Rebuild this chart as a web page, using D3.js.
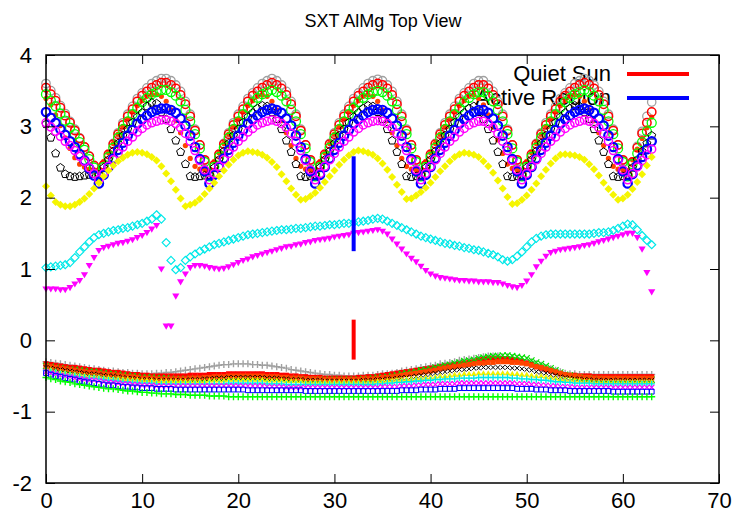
<!DOCTYPE html>
<html lang="en">
  <head>
    <meta charset="UTF-8" />
    <title>SXT AlMg Top View</title>
    <script src="https://cdn.jsdelivr.net/npm/d3@7"></script>
    <style>
      body { margin: 0; background: #fff; }
      text { font-family: "Liberation Sans", Arial, Helvetica, sans-serif; }
    </style>
  </head>
  <body>
    <div id="chart"></div>
    <script>
      // samples are taken every half unit, from 0 to 63
      const xStep = 0.5;
      const xTicks = [0, 10, 20, 30, 40, 50, 60, 70];
      const yTicks = [-2, -1, 0, 1, 2, 3, 4];
      const legendLabels = ["Quiet Sun", "Active Region"];

      // error bars at x = 32
      const barX = [32, 32];
      const barLow = [-0.27, 1.25];
      const barHigh = [0.29, 2.58];

      // ---- upper (periodic) group ----
      const topGray = [
        3.60,3.50,3.40,3.29,3.18,3.07,2.96,2.84,2.71,2.58,2.44,2.30,
        2.45,2.60,2.76,2.91,3.05,3.17,3.28,3.39,3.47,3.54,3.60,3.64,3.67,3.67,3.64,3.58,3.49,3.35,3.17,2.96,2.74,2.52,2.30,
        2.45,2.60,2.76,2.91,3.05,3.17,3.28,3.39,3.47,3.54,3.60,3.64,3.67,3.64,3.58,3.49,3.35,3.17,2.96,2.74,2.52,2.30,
        2.45,2.60,2.76,2.91,3.05,3.17,3.28,3.39,3.47,3.54,3.60,3.64,3.66,3.64,3.58,3.49,3.35,3.17,2.96,2.74,2.52,2.30,
        2.45,2.60,2.76,2.91,3.05,3.17,3.28,3.39,3.47,3.54,3.60,3.64,3.64,3.58,3.49,3.35,3.17,2.96,2.74,2.52,2.30,
        2.45,2.60,2.76,2.91,3.05,3.17,3.28,3.39,3.47,3.54,3.60,3.64,3.67,3.64,3.58,3.49,3.35,3.17,2.96,2.74,2.52,2.30,
        2.50,2.72,2.93,3.14,3.34
      ];
      const topRed = [
        3.54,3.45,3.36,3.26,3.15,3.05,2.94,2.83,2.71,2.58,2.45,2.32,
        2.46,2.61,2.75,2.89,3.02,3.14,3.24,3.35,3.43,3.49,3.54,3.58,3.61,3.61,3.58,3.53,3.44,3.31,3.14,2.94,2.74,2.53,2.32,
        2.46,2.61,2.75,2.89,3.02,3.14,3.24,3.35,3.43,3.49,3.54,3.58,3.61,3.58,3.53,3.44,3.31,3.14,2.94,2.74,2.53,2.32,
        2.46,2.61,2.75,2.89,3.02,3.14,3.24,3.35,3.43,3.49,3.54,3.58,3.60,3.58,3.53,3.44,3.31,3.14,2.94,2.74,2.53,2.32,
        2.46,2.61,2.75,2.89,3.02,3.14,3.24,3.35,3.43,3.49,3.54,3.58,3.58,3.53,3.44,3.31,3.14,2.94,2.74,2.53,2.32,
        2.46,2.61,2.75,2.89,3.02,3.14,3.24,3.35,3.43,3.49,3.54,3.58,3.61,3.58,3.53,3.44,3.31,3.14,2.94,2.74,2.53,2.32,
        2.50,2.70,2.90,3.05,3.20
      ];
      // orange dots rise with the red circles but fall a little earlier
      const topOrange = [
        3.39,3.30,3.16,3.01,2.84,2.69,2.56,2.47,2.43,2.40,2.39,2.38,
        2.51,2.63,2.76,2.89,3.00,3.10,3.20,3.29,3.36,3.42,3.44,3.45,3.42,3.35,3.23,3.08,2.91,2.73,2.55,2.44,2.40,2.39,2.38,
        2.51,2.63,2.76,2.89,3.00,3.10,3.20,3.29,3.36,3.42,3.44,3.42,3.35,3.23,3.08,2.91,2.73,2.55,2.44,2.40,2.39,2.38,
        2.51,2.63,2.76,2.89,3.00,3.10,3.20,3.29,3.36,3.42,3.44,3.42,3.35,3.23,3.08,2.91,2.73,2.55,2.44,2.40,2.39,2.38,
        2.51,2.63,2.76,2.89,3.00,3.10,3.20,3.29,3.36,3.42,3.44,3.39,3.30,3.16,2.99,2.81,2.62,2.47,2.41,2.39,2.38,
        2.51,2.63,2.76,2.89,3.00,3.10,3.20,3.29,3.36,3.42,3.44,3.42,3.35,3.23,3.08,2.91,2.73,2.55,2.44,2.40,2.39,2.38,
        2.53,2.68,2.83,2.98,3.13
      ];
      const topGreen = [
        3.45,3.36,3.28,3.18,3.08,2.98,2.89,2.78,2.67,2.54,2.42,2.30,
        2.43,2.57,2.70,2.84,2.96,3.07,3.17,3.26,3.34,3.40,3.45,3.48,3.51,3.51,3.48,3.43,3.35,3.23,3.07,2.89,2.69,2.50,2.30,
        2.43,2.57,2.70,2.84,2.96,3.07,3.17,3.26,3.34,3.40,3.45,3.48,3.51,3.48,3.43,3.35,3.23,3.07,2.89,2.69,2.50,2.30,
        2.43,2.57,2.70,2.84,2.96,3.07,3.17,3.26,3.34,3.40,3.45,3.48,3.50,3.48,3.43,3.35,3.23,3.07,2.89,2.69,2.50,2.30,
        2.43,2.57,2.70,2.84,2.96,3.07,3.17,3.26,3.34,3.40,3.45,3.48,3.48,3.43,3.35,3.23,3.07,2.89,2.69,2.50,2.30,
        2.43,2.57,2.70,2.84,2.96,3.07,3.17,3.26,3.34,3.40,3.45,3.48,3.51,3.48,3.43,3.35,3.23,3.07,2.89,2.69,2.50,2.30,
        2.47,2.62,2.78,2.93,3.05
      ];
      const topBlack = [
        3.03,2.84,2.62,2.42,2.33,2.30,2.29,2.30,2.31,2.32,2.33,2.32,
        2.42,2.53,2.65,2.76,2.87,2.96,3.05,3.13,3.19,3.28,3.33,3.32,3.20,3.10,2.96,2.80,2.64,2.47,2.30,2.29,2.30,2.31,2.32,
        2.42,2.53,2.65,2.76,2.87,2.96,3.05,3.13,3.19,3.25,3.29,3.28,3.20,3.10,2.96,2.80,2.64,2.47,2.30,2.29,2.30,2.32,
        2.42,2.53,2.65,2.76,2.87,2.96,3.05,3.13,3.19,3.25,3.29,3.28,3.20,3.10,2.96,2.80,2.64,2.47,2.30,2.29,2.30,2.32,
        2.42,2.53,2.65,2.76,2.87,2.96,3.05,3.13,3.19,3.25,3.28,3.20,3.10,2.96,2.80,2.64,2.47,2.30,2.29,2.30,2.32,
        2.42,2.53,2.65,2.76,2.87,2.96,3.05,3.13,3.19,3.25,3.29,3.28,3.20,3.10,2.96,2.80,2.64,2.47,2.30,2.29,2.30,2.32,
        2.42,2.53,2.65,2.76,2.87
      ];
      const topBlue = [
        3.20,3.12,3.05,2.96,2.88,2.79,2.71,2.61,2.52,2.41,2.31,2.20,
        2.32,2.43,2.55,2.67,2.77,2.87,2.95,3.04,3.10,3.15,3.20,3.23,3.25,3.25,3.23,3.19,3.11,3.01,2.87,2.71,2.54,2.37,2.20,
        2.32,2.43,2.55,2.67,2.77,2.87,2.95,3.04,3.10,3.15,3.20,3.23,3.25,3.23,3.19,3.11,3.01,2.87,2.71,2.54,2.37,2.20,
        2.32,2.43,2.55,2.67,2.77,2.87,2.95,3.04,3.10,3.15,3.20,3.23,3.24,3.23,3.19,3.11,3.01,2.87,2.71,2.54,2.37,2.20,
        2.32,2.43,2.55,2.67,2.77,2.87,2.95,3.04,3.10,3.15,3.20,3.23,3.23,3.19,3.11,3.01,2.87,2.71,2.54,2.37,2.20,
        2.32,2.43,2.55,2.67,2.77,2.87,2.95,3.04,3.10,3.15,3.20,3.23,3.25,3.23,3.19,3.11,3.01,2.87,2.71,2.54,2.37,2.20,
        2.33,2.45,2.57,2.68,2.79
      ];
      const topMagenta = [
        3.05,2.99,2.93,2.86,2.79,2.73,2.66,2.58,2.51,2.42,2.34,2.25,
        2.34,2.44,2.53,2.62,2.71,2.79,2.85,2.92,2.97,3.02,3.05,3.07,3.09,3.09,3.07,3.04,2.98,2.90,2.79,2.66,2.52,2.39,2.25,
        2.34,2.44,2.53,2.62,2.71,2.79,2.85,2.92,2.97,3.02,3.05,3.07,3.09,3.07,3.04,2.98,2.90,2.79,2.66,2.52,2.39,2.25,
        2.34,2.44,2.53,2.62,2.71,2.79,2.85,2.92,2.97,3.02,3.05,3.07,3.08,3.07,3.04,2.98,2.90,2.79,2.66,2.52,2.39,2.25,
        2.34,2.44,2.53,2.62,2.71,2.79,2.85,2.92,2.97,3.02,3.05,3.07,3.07,3.04,2.98,2.90,2.79,2.66,2.52,2.39,2.25,
        2.34,2.44,2.53,2.62,2.71,2.79,2.85,2.92,2.97,3.02,3.05,3.07,3.09,3.07,3.04,2.98,2.90,2.79,2.66,2.52,2.39,2.25,
        2.34,2.43,2.52,2.60,2.68
      ];
      const topYellow = [
        2.16,2.03,1.94,1.90,1.88,1.88,1.90,1.94,1.99,2.05,2.13,2.21,2.30,2.38,2.45,2.51,2.56,2.60,2.63,2.64,
        2.63,2.61,2.57,2.52,2.44,2.34,2.23,2.11,1.99,1.88,
        1.90,1.93,1.98,2.05,2.13,2.21,2.30,2.38,2.46,2.53,2.59,2.63,2.65,
        2.64,2.63,2.60,2.56,2.50,2.43,2.33,2.23,2.13,2.04,1.97,
        1.98,2.02,2.07,2.14,2.22,2.30,2.38,2.46,2.53,2.59,2.64,2.66,
        2.65,2.63,2.60,2.55,2.48,2.39,2.29,2.18,2.08,1.98,
        1.99,2.03,2.08,2.14,2.21,2.29,2.37,2.44,2.51,2.57,2.61,2.63,
        2.62,2.60,2.57,2.51,2.44,2.35,2.24,2.13,2.01,1.91,
        1.92,1.97,2.03,2.11,2.20,2.30,2.39,2.48,2.55,2.60,2.61,
        2.60,2.59,2.57,2.53,2.47,2.40,2.31,2.21,2.12,2.04,1.97,
        1.99,2.04,2.12,2.22,2.33,2.45,2.57
      ];

      // ---- middle group ----
      const midCyan = [
        1.02,1.03,1.04,1.05,1.06,1.09,1.16,1.24,1.31,1.38,
        1.44,1.48,1.50,1.52,1.54,1.55,1.57,1.58,1.60,1.62,
        1.64,1.67,1.70,1.76,1.70,1.37,1.12,0.99,1.02,1.12,
        1.17,1.21,1.25,1.28,1.31,1.34,1.36,1.38,1.40,1.42,
        1.44,1.46,1.48,1.49,1.50,1.51,1.52,1.53,1.54,1.55,
        1.55,1.56,1.57,1.57,1.58,1.59,1.60,1.60,1.61,1.62,
        1.62,1.63,1.64,1.64,1.65,1.66,1.67,1.68,1.70,1.71,
        1.70,1.67,1.64,1.61,1.58,1.55,1.52,1.49,1.46,1.44,
        1.42,1.40,1.38,1.36,1.35,1.33,1.32,1.30,1.29,1.27,
        1.26,1.24,1.22,1.20,1.17,1.13,1.11,1.13,1.18,1.24,
        1.31,1.38,1.43,1.46,1.48,1.49,1.49,1.49,1.49,1.49,
        1.49,1.49,1.49,1.49,1.50,1.51,1.51,1.52,1.54,1.57,
        1.60,1.63,1.62,1.55,1.47,1.40,1.34
      ];
      const midMagenta = [
        0.72,0.72,0.72,0.71,0.71,0.74,0.79,0.84,0.92,1.05,
        1.16,1.26,1.30,1.32,1.34,1.36,1.37,1.39,1.41,1.44,
        1.47,1.51,1.56,1.61,1.00,0.20,0.20,0.62,0.82,0.93,
        1.02,1.05,1.05,1.04,1.02,1.01,1.00,1.01,1.03,1.06,
        1.09,1.12,1.14,1.17,1.19,1.21,1.23,1.25,1.27,1.29,
        1.31,1.32,1.34,1.35,1.37,1.38,1.40,1.41,1.42,1.43,
        1.45,1.46,1.47,1.48,1.50,1.51,1.52,1.53,1.54,1.55,
        1.53,1.49,1.42,1.35,1.28,1.21,1.15,1.10,1.04,0.98,
        0.93,0.90,0.88,0.87,0.86,0.85,0.84,0.84,0.83,0.83,
        0.82,0.82,0.82,0.81,0.81,0.79,0.77,0.75,0.74,0.77,
        0.83,0.92,1.03,1.11,1.18,1.23,1.25,1.27,1.28,1.29,
        1.30,1.31,1.33,1.34,1.36,1.38,1.40,1.42,1.44,1.46,
        1.48,1.50,1.50,1.44,1.28,0.95,0.68
      ];

      // ---- lower group ----
      const lowGray = [
        -0.30,-0.31,-0.32,-0.33,-0.34,-0.35,-0.36,-0.37,-0.38,-0.39,-0.40,-0.41,-0.42,-0.43,-0.43,-0.44,
        -0.45,-0.45,-0.46,-0.46,-0.47,-0.47,-0.47,-0.46,-0.46,-0.45,-0.45,-0.44,-0.43,-0.42,-0.41,-0.40,
        -0.39,-0.38,-0.37,-0.36,-0.35,-0.34,-0.34,-0.33,-0.33,-0.33,-0.33,-0.34,-0.34,-0.35,-0.35,-0.36,
        -0.37,-0.38,-0.39,-0.41,-0.42,-0.43,-0.44,-0.45,-0.46,-0.47,-0.48,-0.48,-0.49,-0.49,-0.50,-0.50,
        -0.50,-0.50,-0.49,-0.49,-0.49,-0.48,-0.47,-0.47,-0.46,-0.45,-0.43,-0.42,-0.41,-0.40,-0.38,-0.37,
        -0.36,-0.35,-0.33,-0.32,-0.31,-0.30,-0.28,-0.27,-0.26,-0.25,-0.24,-0.23,-0.22,-0.22,-0.22,-0.23,
        -0.23,-0.24,-0.25,-0.27,-0.28,-0.30,-0.33,-0.35,-0.38,-0.40,-0.42,-0.44,-0.46,-0.47,-0.47,-0.48,
        -0.48,-0.48,-0.48,-0.48,-0.48,-0.48,-0.48,-0.48,-0.48,-0.48,-0.48,-0.48,-0.48,-0.48,-0.48
      ];
      const lowRed = [
        -0.33,-0.34,-0.35,-0.36,-0.37,-0.38,-0.38,-0.39,-0.40,-0.41,-0.42,-0.42,-0.43,-0.44,-0.45,-0.45,
        -0.46,-0.47,-0.48,-0.48,-0.49,-0.49,-0.50,-0.50,-0.50,-0.50,-0.50,-0.50,-0.50,-0.50,-0.49,-0.49,
        -0.49,-0.49,-0.48,-0.48,-0.48,-0.48,-0.47,-0.47,-0.47,-0.47,-0.47,-0.47,-0.47,-0.47,-0.48,-0.48,
        -0.48,-0.49,-0.49,-0.50,-0.50,-0.51,-0.51,-0.52,-0.52,-0.52,-0.53,-0.53,-0.53,-0.53,-0.53,-0.53,
        -0.53,-0.52,-0.52,-0.51,-0.51,-0.50,-0.49,-0.48,-0.47,-0.46,-0.45,-0.44,-0.43,-0.42,-0.41,-0.40,
        -0.39,-0.38,-0.37,-0.36,-0.35,-0.34,-0.33,-0.32,-0.31,-0.30,-0.28,-0.27,-0.26,-0.26,-0.26,-0.26,
        -0.26,-0.27,-0.28,-0.30,-0.32,-0.34,-0.37,-0.39,-0.41,-0.43,-0.45,-0.47,-0.48,-0.49,-0.49,-0.50,
        -0.50,-0.50,-0.51,-0.51,-0.51,-0.51,-0.51,-0.51,-0.51,-0.51,-0.51,-0.51,-0.51,-0.51,-0.51
      ];
      const lowGreen = [
        -0.36,-0.37,-0.38,-0.39,-0.40,-0.41,-0.41,-0.42,-0.43,-0.44,-0.44,-0.45,-0.46,-0.47,-0.47,-0.48,
        -0.49,-0.50,-0.50,-0.51,-0.52,-0.52,-0.52,-0.53,-0.53,-0.53,-0.54,-0.54,-0.54,-0.54,-0.54,-0.54,
        -0.54,-0.54,-0.53,-0.53,-0.53,-0.53,-0.52,-0.52,-0.52,-0.52,-0.52,-0.52,-0.52,-0.52,-0.53,-0.53,
        -0.53,-0.53,-0.54,-0.54,-0.54,-0.54,-0.55,-0.55,-0.55,-0.55,-0.55,-0.55,-0.55,-0.55,-0.55,-0.55,
        -0.55,-0.55,-0.54,-0.54,-0.53,-0.52,-0.52,-0.51,-0.50,-0.49,-0.47,-0.46,-0.45,-0.44,-0.42,-0.41,
        -0.40,-0.38,-0.37,-0.35,-0.34,-0.32,-0.31,-0.29,-0.28,-0.27,-0.25,-0.24,-0.23,-0.22,-0.22,-0.21,
        -0.21,-0.22,-0.23,-0.24,-0.25,-0.28,-0.31,-0.33,-0.36,-0.39,-0.42,-0.45,-0.48,-0.49,-0.51,-0.52,
        -0.53,-0.53,-0.54,-0.54,-0.55,-0.55,-0.55,-0.55,-0.55,-0.55,-0.55,-0.55,-0.55,-0.55,-0.55
      ];
      const lowOrange = [
        -0.36,-0.37,-0.38,-0.39,-0.40,-0.41,-0.42,-0.43,-0.44,-0.45,-0.45,-0.46,-0.47,-0.48,-0.48,-0.49,
        -0.50,-0.51,-0.51,-0.52,-0.53,-0.53,-0.53,-0.54,-0.54,-0.54,-0.54,-0.54,-0.54,-0.54,-0.53,-0.53,
        -0.53,-0.52,-0.52,-0.51,-0.51,-0.51,-0.50,-0.50,-0.50,-0.50,-0.50,-0.50,-0.50,-0.50,-0.51,-0.51,
        -0.51,-0.52,-0.52,-0.53,-0.53,-0.53,-0.54,-0.54,-0.54,-0.54,-0.55,-0.55,-0.55,-0.55,-0.55,-0.55,
        -0.55,-0.55,-0.54,-0.54,-0.54,-0.53,-0.52,-0.52,-0.51,-0.50,-0.49,-0.48,-0.47,-0.46,-0.45,-0.44,
        -0.43,-0.42,-0.40,-0.39,-0.38,-0.37,-0.36,-0.35,-0.34,-0.33,-0.32,-0.32,-0.31,-0.31,-0.30,-0.30,
        -0.30,-0.31,-0.31,-0.32,-0.33,-0.35,-0.37,-0.38,-0.40,-0.42,-0.44,-0.46,-0.48,-0.49,-0.50,-0.51,
        -0.52,-0.52,-0.53,-0.53,-0.53,-0.53,-0.53,-0.53,-0.53,-0.53,-0.53,-0.53,-0.53,-0.53,-0.53
      ];
      const lowBlack = [
        -0.38,-0.39,-0.40,-0.41,-0.42,-0.43,-0.44,-0.45,-0.46,-0.47,-0.47,-0.48,-0.49,-0.50,-0.50,-0.51,
        -0.52,-0.53,-0.53,-0.54,-0.55,-0.55,-0.55,-0.56,-0.56,-0.56,-0.56,-0.56,-0.56,-0.56,-0.55,-0.55,
        -0.55,-0.54,-0.54,-0.53,-0.53,-0.53,-0.52,-0.52,-0.52,-0.52,-0.52,-0.52,-0.52,-0.52,-0.53,-0.53,
        -0.53,-0.54,-0.54,-0.55,-0.55,-0.55,-0.56,-0.56,-0.56,-0.56,-0.57,-0.57,-0.57,-0.57,-0.57,-0.57,
        -0.57,-0.57,-0.56,-0.56,-0.56,-0.55,-0.55,-0.54,-0.54,-0.53,-0.52,-0.52,-0.51,-0.50,-0.49,-0.48,
        -0.47,-0.46,-0.45,-0.44,-0.43,-0.42,-0.41,-0.41,-0.40,-0.39,-0.39,-0.38,-0.38,-0.38,-0.38,-0.38,
        -0.38,-0.39,-0.39,-0.40,-0.41,-0.42,-0.44,-0.45,-0.46,-0.48,-0.49,-0.51,-0.52,-0.53,-0.54,-0.54,
        -0.55,-0.55,-0.56,-0.56,-0.56,-0.56,-0.56,-0.56,-0.56,-0.56,-0.56,-0.56,-0.56,-0.56,-0.56
      ];
      const lowYellow = [
        -0.40,-0.41,-0.43,-0.44,-0.45,-0.46,-0.47,-0.48,-0.49,-0.50,-0.50,-0.51,-0.52,-0.52,-0.53,-0.53,
        -0.54,-0.54,-0.55,-0.55,-0.56,-0.56,-0.56,-0.57,-0.57,-0.57,-0.57,-0.57,-0.57,-0.57,-0.57,-0.57,
        -0.57,-0.57,-0.56,-0.56,-0.56,-0.56,-0.55,-0.55,-0.55,-0.55,-0.55,-0.55,-0.55,-0.55,-0.56,-0.56,
        -0.56,-0.56,-0.57,-0.57,-0.57,-0.57,-0.58,-0.58,-0.58,-0.58,-0.58,-0.58,-0.58,-0.58,-0.58,-0.58,
        -0.58,-0.58,-0.58,-0.58,-0.58,-0.57,-0.57,-0.56,-0.56,-0.55,-0.55,-0.54,-0.54,-0.53,-0.53,-0.52,
        -0.52,-0.51,-0.50,-0.50,-0.49,-0.48,-0.48,-0.47,-0.47,-0.47,-0.46,-0.46,-0.46,-0.46,-0.46,-0.46,
        -0.46,-0.47,-0.47,-0.48,-0.48,-0.49,-0.50,-0.50,-0.51,-0.52,-0.53,-0.54,-0.55,-0.55,-0.56,-0.56,
        -0.57,-0.57,-0.58,-0.58,-0.58,-0.58,-0.58,-0.58,-0.58,-0.58,-0.58,-0.58,-0.58,-0.58,-0.58
      ];
      const lowCyan = [
        -0.42,-0.44,-0.45,-0.47,-0.48,-0.49,-0.50,-0.51,-0.52,-0.53,-0.53,-0.54,-0.55,-0.56,-0.56,-0.57,
        -0.58,-0.58,-0.59,-0.59,-0.60,-0.60,-0.60,-0.61,-0.61,-0.61,-0.61,-0.61,-0.61,-0.61,-0.61,-0.61,
        -0.61,-0.61,-0.61,-0.61,-0.61,-0.61,-0.60,-0.60,-0.60,-0.60,-0.60,-0.60,-0.60,-0.60,-0.61,-0.61,
        -0.61,-0.61,-0.62,-0.62,-0.62,-0.62,-0.62,-0.62,-0.62,-0.62,-0.62,-0.62,-0.62,-0.62,-0.62,-0.62,
        -0.62,-0.62,-0.62,-0.62,-0.62,-0.61,-0.61,-0.60,-0.60,-0.59,-0.59,-0.58,-0.58,-0.57,-0.57,-0.56,
        -0.56,-0.55,-0.55,-0.54,-0.54,-0.54,-0.53,-0.53,-0.53,-0.53,-0.52,-0.52,-0.52,-0.52,-0.52,-0.52,
        -0.52,-0.53,-0.53,-0.54,-0.54,-0.55,-0.55,-0.56,-0.56,-0.57,-0.58,-0.58,-0.59,-0.59,-0.60,-0.60,
        -0.60,-0.60,-0.61,-0.61,-0.61,-0.61,-0.61,-0.61,-0.61,-0.61,-0.61,-0.61,-0.61,-0.61,-0.61
      ];
      const lowMagenta = [
        -0.44,-0.46,-0.47,-0.49,-0.50,-0.51,-0.53,-0.54,-0.55,-0.56,-0.56,-0.57,-0.58,-0.59,-0.59,-0.60,
        -0.61,-0.61,-0.62,-0.62,-0.63,-0.63,-0.63,-0.64,-0.64,-0.64,-0.64,-0.64,-0.64,-0.64,-0.64,-0.64,
        -0.64,-0.64,-0.64,-0.64,-0.64,-0.64,-0.64,-0.64,-0.64,-0.64,-0.64,-0.64,-0.64,-0.64,-0.65,-0.65,
        -0.65,-0.65,-0.66,-0.66,-0.66,-0.66,-0.66,-0.66,-0.66,-0.66,-0.66,-0.66,-0.66,-0.66,-0.66,-0.66,
        -0.66,-0.66,-0.66,-0.66,-0.66,-0.66,-0.65,-0.65,-0.65,-0.65,-0.64,-0.64,-0.64,-0.63,-0.63,-0.62,
        -0.62,-0.62,-0.61,-0.61,-0.61,-0.61,-0.60,-0.60,-0.60,-0.60,-0.60,-0.60,-0.60,-0.60,-0.60,-0.60,
        -0.60,-0.60,-0.61,-0.61,-0.61,-0.62,-0.62,-0.63,-0.63,-0.64,-0.64,-0.65,-0.65,-0.65,-0.66,-0.66,
        -0.66,-0.66,-0.66,-0.66,-0.66,-0.66,-0.66,-0.66,-0.66,-0.66,-0.66,-0.66,-0.66,-0.66,-0.66
      ];
      const lowBlue = [
        -0.46,-0.48,-0.50,-0.51,-0.53,-0.54,-0.55,-0.57,-0.58,-0.59,-0.60,-0.61,-0.62,-0.63,-0.63,-0.64,
        -0.65,-0.65,-0.66,-0.66,-0.67,-0.67,-0.67,-0.68,-0.68,-0.68,-0.68,-0.69,-0.69,-0.69,-0.69,-0.69,
        -0.69,-0.69,-0.69,-0.69,-0.69,-0.69,-0.69,-0.69,-0.69,-0.69,-0.70,-0.70,-0.70,-0.70,-0.70,-0.70,
        -0.70,-0.70,-0.70,-0.70,-0.70,-0.70,-0.71,-0.71,-0.71,-0.71,-0.71,-0.71,-0.71,-0.71,-0.71,-0.71,
        -0.71,-0.71,-0.71,-0.71,-0.71,-0.71,-0.71,-0.71,-0.71,-0.71,-0.70,-0.70,-0.70,-0.70,-0.69,-0.69,
        -0.69,-0.69,-0.68,-0.68,-0.68,-0.68,-0.67,-0.67,-0.67,-0.67,-0.67,-0.67,-0.67,-0.67,-0.67,-0.67,
        -0.67,-0.67,-0.68,-0.68,-0.68,-0.68,-0.69,-0.69,-0.69,-0.70,-0.70,-0.70,-0.70,-0.71,-0.71,-0.71,
        -0.71,-0.71,-0.71,-0.71,-0.71,-0.71,-0.72,-0.72,-0.72,-0.72,-0.72,-0.72,-0.72,-0.72,-0.72
      ];
      const lowLime = [
        -0.52,-0.54,-0.55,-0.57,-0.58,-0.59,-0.61,-0.62,-0.63,-0.64,-0.65,-0.66,-0.67,-0.68,-0.68,-0.69,
        -0.70,-0.71,-0.71,-0.72,-0.73,-0.73,-0.74,-0.74,-0.75,-0.75,-0.75,-0.76,-0.76,-0.76,-0.77,-0.77,
        -0.77,-0.77,-0.78,-0.78,-0.78,-0.78,-0.79,-0.79,-0.79,-0.79,-0.79,-0.79,-0.79,-0.79,-0.79,-0.79,
        -0.79,-0.79,-0.79,-0.79,-0.79,-0.79,-0.79,-0.79,-0.79,-0.79,-0.79,-0.79,-0.79,-0.79,-0.79,-0.79,
        -0.79,-0.79,-0.79,-0.79,-0.79,-0.79,-0.79,-0.79,-0.79,-0.79,-0.79,-0.79,-0.79,-0.79,-0.79,-0.79,
        -0.79,-0.79,-0.79,-0.79,-0.79,-0.79,-0.79,-0.79,-0.79,-0.79,-0.79,-0.79,-0.79,-0.79,-0.79,-0.79,
        -0.79,-0.79,-0.79,-0.79,-0.79,-0.79,-0.79,-0.79,-0.79,-0.79,-0.79,-0.79,-0.79,-0.79,-0.79,-0.79,
        -0.79,-0.79,-0.79,-0.79,-0.79,-0.79,-0.79,-0.79,-0.79,-0.79,-0.79,-0.79,-0.79,-0.79,-0.79
      ];

      // set up the svg and scales
      const width = 743, height = 520;
      const svg = d3.select("#chart").append("svg")
        .attr("width", width).attr("height", height);

      const x = d3.scaleLinear().domain([0, 70]).range([46, 719]);
      const y = d3.scaleLinear().domain([-2, 4]).range([483, 55]);

      // marker shapes (gnuplot-like point types)
      const markers = {
        circle: (s) => d3.symbol(d3.symbolCircle, Math.PI * s * s)(),
        plus: (s) => `M${-s},0H${s}M0,${-s}V${s}`,
        cross: (s) => `M${-s},${-s}L${s},${s}M${-s},${s}L${s},${-s}`,
        square: (s) => `M${-s},${-s}H${s}V${s}H${-s}Z`,
        diamond: (s) => `M0,${-s}L${s},0L0,${s}L${-s},0Z`,
        triangle: (s) => `M0,${-s}L${s},${s * 0.7}L${-s},${s * 0.7}Z`,
        triangleDown: (s) => `M${-s},${-s * 0.7}L${s},${-s * 0.7}L0,${s}Z`,
        pentagon: (s) =>
          d3.range(5).map((k) => {
            const a = -Math.PI / 2 + (k * 2 * Math.PI) / 5;
            return (k ? "L" : "M") + (s * Math.cos(a)).toFixed(2) + "," + (s * Math.sin(a)).toFixed(2);
          }).join("") + "Z",
      };

      // legend text goes below the points (points cover part of it)
      const legendY = [81, 105];
      svg.selectAll(".legend-label")
        .data(legendLabels)
        .join("text")
        .attr("class", "legend-label")
        .attr("x", 611)
        .attr("y", (d, i) => legendY[i])
        .attr("text-anchor", "end")
        .style("font-size", "22px")
        .text((d) => d);

      // every series with its look
      const series = [
        { values: lowGray, marker: "plus", size: 3.5, color: "#a0a0a0", fill: false, width: 1.4 },
        { values: lowRed, marker: "square", size: 2.6, color: "#ff0000", fill: true },
        { values: lowGreen, marker: "cross", size: 3, color: "#00e000", fill: false, width: 1.2 },
        { values: lowOrange, marker: "square", size: 2.5, color: "#ff4500", fill: true },
        { values: lowBlack, marker: "cross", size: 2.2, color: "#000000", fill: false, width: 1 },
        { values: lowYellow, marker: "triangle", size: 3, color: "#f0f000", fill: true },
        { values: lowCyan, marker: "plus", size: 3.2, color: "#00e8e8", fill: false, width: 1.4 },
        { values: lowMagenta, marker: "cross", size: 2.6, color: "#ff00ff", fill: false, width: 1.2 },
        { values: lowBlue, marker: "square", size: 2.4, color: "#0000ff", fill: false, width: 1 },
        { values: lowLime, marker: "plus", size: 3.5, color: "#00ff00", fill: false, width: 1.4 },

        { values: midCyan, marker: "diamond", size: 4, color: "#00e8e8", fill: false, width: 1.2 },
        { values: midMagenta, marker: "triangleDown", size: 3.6, color: "#ff00ff", fill: true },

        { values: topGray, marker: "circle", size: 4.2, color: "#a0a0a0", fill: false, width: 1.3 },
        { values: topOrange, marker: "circle", size: 2.6, color: "#ff4500", fill: true },
        { values: topRed, marker: "circle", size: 4.2, color: "#ff0000", fill: false, width: 1.5 },
        { values: topGreen, marker: "circle", size: 4.5, color: "#00ff00", fill: false, width: 1.3 },
        { values: topBlack, marker: "pentagon", size: 4.2, color: "#000000", fill: false, width: 1 },
        { values: topBlue, marker: "circle", size: 4.2, color: "#0000ff", fill: false, width: 2.2 },
        { values: topMagenta, marker: "circle", size: 4, color: "#ff00ff", fill: false, width: 1.5 },
        { values: topYellow, marker: "diamond", size: 4, color: "#f5f500", fill: true },
      ];

      // Draw the points
      series.forEach((s) => {
        const shape = markers[s.marker](s.size);
        svg.append("g")
          .selectAll("path")
          .data(s.values)
          .join("path")
          .attr("d", shape)
          .attr("transform", (v, i) => `translate(${x(i * xStep)},${y(v)})`)
          .attr("fill", s.fill ? s.color : "none")
          .attr("stroke", s.fill ? "none" : s.color)
          .attr("stroke-width", s.width || 1);
      });

      // error bars
      const barColors = ["#ff0000", "#0000ff"];
      svg.selectAll(".bar")
        .data(barX)
        .join("line")
        .attr("class", "bar")
        .attr("x1", (d) => x(d)).attr("x2", (d) => x(d))
        .attr("y1", (d, i) => y(barLow[i]))
        .attr("y2", (d, i) => y(barHigh[i]))
        .attr("stroke", (d, i) => barColors[i])
        .attr("stroke-width", 4);

      // legend samples
      svg.selectAll(".legend-line")
        .data(legendLabels)
        .join("line")
        .attr("class", "legend-line")
        .attr("x1", 627).attr("x2", 689)
        .attr("y1", (d, i) => legendY[i] - 7)
        .attr("y2", (d, i) => legendY[i] - 7)
        .attr("stroke", (d, i) => barColors[i])
        .attr("stroke-width", 4);

      // axes with inward ticks on all four sides, plain "-" for negatives
      const plain = (d) => String(d);
      const styleAxis = (g) => {
        g.select(".domain").remove();
        g.selectAll(".tick line").attr("stroke", "#000").attr("stroke-width", 1);
        g.selectAll("text").attr("fill", "#000")
          .style("font-size", "22px")
          .style("font-family", '"Liberation Sans", Arial, sans-serif');
      };
      svg.append("g").attr("transform", "translate(0,483)")
        .call(d3.axisBottom(x).tickValues(xTicks).tickFormat(plain).tickSizeInner(-9).tickSizeOuter(0).tickPadding(9))
        .call(styleAxis);
      svg.append("g").attr("transform", "translate(0,55)")
        .call(d3.axisTop(x).tickValues(xTicks).tickSizeInner(-9).tickSizeOuter(0).tickFormat(""))
        .call(styleAxis);
      svg.append("g").attr("transform", "translate(46,0)")
        .call(d3.axisLeft(y).tickValues(yTicks).tickFormat(plain).tickSizeInner(-9).tickSizeOuter(0).tickPadding(14))
        .call(styleAxis);
      svg.append("g").attr("transform", "translate(719,0)")
        .call(d3.axisRight(y).tickValues(yTicks).tickSizeInner(-9).tickSizeOuter(0).tickFormat(""))
        .call(styleAxis);

      // frame
      svg.append("rect")
        .attr("x", 46).attr("y", 55)
        .attr("width", 719 - 46).attr("height", 483 - 55)
        .attr("fill", "none").attr("stroke", "#000").attr("stroke-width", 1.5);

      // title
      svg.append("text")
        .attr("x", 383).attr("y", 27)
        .attr("text-anchor", "middle")
        .style("font-size", "18px")
        .text("SXT AlMg Top View");
    </script>
  </body>
</html>
